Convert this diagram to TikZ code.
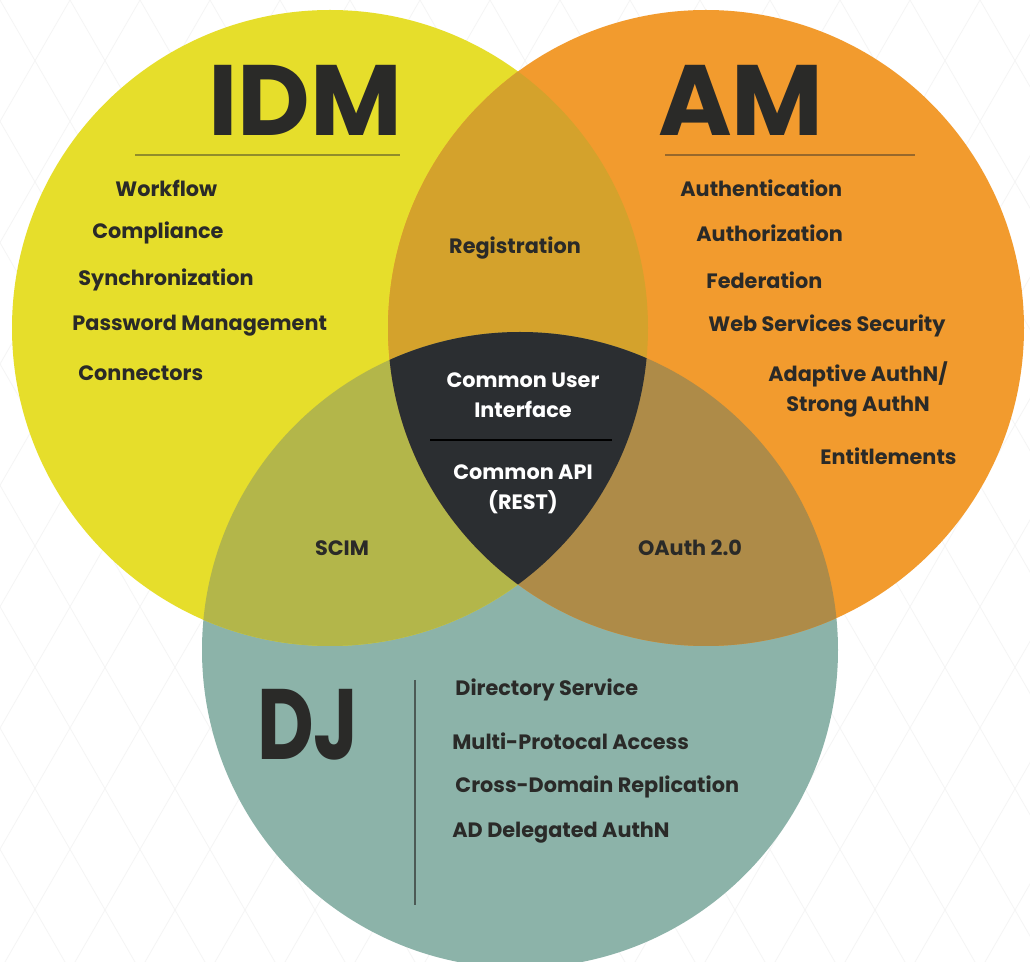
\documentclass[tikz,border=0pt]{standalone}
\usepackage{fontspec}
\setmainfont{Poppins}
\usetikzlibrary{positioning}

\definecolor{idmyellow}{HTML}{E6DE2B}
\definecolor{amorange}{HTML}{F29B2E}
\definecolor{djteal}{HTML}{8CB3A9}
\definecolor{coredark}{HTML}{2B2E31}
\definecolor{regcol}{HTML}{D4A22C}
\definecolor{scimcol}{HTML}{B3B64A}
\definecolor{oauthcol}{HTML}{AE8B48}
\definecolor{inkdark}{HTML}{2A2A28}
\definecolor{gridgray}{HTML}{F5F5F5}

\begin{document}
\begin{tikzpicture}[x=0.5pt,y=-0.5pt,
    item/.style={font=\fontsize{10.4}{12}\selectfont\bfseries,text=inkdark,inner sep=0pt},
    core/.style={item,text=white,align=center},
    big/.style={font=\fontsize{50}{50}\selectfont\bfseries,text=inkdark,inner sep=0pt},
    rule/.style={line width=0.6pt}]
  \useasboundingbox (0,0) rectangle (1030,962);
  \fill[white] (0,0) rectangle (1030,962);
  % faint lattice in the background
  \begin{scope}
    \clip (0,0) rectangle (1030,962);
    \foreach \k in {-10,...,24} {
      \draw[gridgray,line width=0.4pt] (\k*70,0) -- ++(555,962);
      \draw[gridgray,line width=0.4pt] (\k*70,0) -- ++(-555,962);
    }
  \end{scope}

  \coordinate (cidm) at (330,328);
  \coordinate (cam) at (706,328);
  \coordinate (cdj) at (520,650);
  \def\rad{318}

  % the three circles
  \fill[djteal] (cdj) circle [radius=\rad];
  \fill[idmyellow] (cidm) circle [radius=\rad];
  \fill[amorange] (cam) circle [radius=\rad];
  % overlaps
  \begin{scope}
    \clip (cidm) circle [radius=\rad];
    \fill[regcol] (cam) circle [radius=\rad];
    \fill[scimcol] (cdj) circle [radius=\rad];
  \end{scope}
  \begin{scope}
    \clip (cam) circle [radius=\rad];
    \fill[oauthcol] (cdj) circle [radius=\rad];
    \clip (cidm) circle [radius=\rad];
    \fill[coredark] (cdj) circle [radius=\rad];
  \end{scope}

  % titles
  \node[big] (idm) at (305,100) {IDM};
  \node[big] (am) at (741,100) {AM};
  \node[big] (dj) at (308,725) {\scalebox{0.78}[1]{DJ}};
  \draw[rule,inkdark!45!idmyellow] (135,155) -- (400,155);
  \draw[rule,inkdark!45!amorange] (665,155) -- (915,155);
  \draw[rule,inkdark!65!djteal] (415,680) -- (415,905);

  % IDM
  \node[item,anchor=west] (wf) at (115,188) {Workflow};
  \node[item,anchor=west] (comp) at (92,233) {Compliance};
  \node[item,anchor=west] (sync) at (78,280) {Synchronization};
  \node[item,anchor=west] (pwd) at (72,326) {Password Management};
  \node[item,anchor=west] (conn) at (78,373) {Connectors};

  % AM
  \node[item,anchor=west] (authn) at (680,188) {Authentication};
  \node[item,anchor=west] (authz) at (696,233) {Authorization};
  \node[item,anchor=west] (fed) at (706,280) {Federation};
  \node[item,anchor=west] (wss) at (708,326) {Web Services Security};
  \node[item,align=center] (adapt) at (858,389) {Adaptive AuthN/\\[3pt]Strong AuthN};
  \node[item,anchor=west] (ent) at (820,456) {Entitlements};

  % overlaps
  \node[item] (reg) at (515,248) {Registration};
  \node[item] (scim) at (342,548) {SCIM};
  \node[item] (oauth) at (690,548) {OAuth 2.0};
  \node[core] (cui) at (523,395) {Common User\\[3pt]Interface};
  \node[core] (capi) at (523,489) {Common API\\[3pt](REST)};
  \draw[line width=1.2pt,black] (430,440) -- (612,440);

  % DJ
  \node[item,anchor=west] (dir) at (455,690) {Directory Service};
  \node[item,anchor=west] (multi) at (452,741) {Multi-Protocal Access};
  \node[item,anchor=west] (cross) at (455,787) {Cross-Domain Replication};
  \node[item,anchor=west] (addel) at (452,833) {AD Delegated AuthN};
\end{tikzpicture}
\end{document}
